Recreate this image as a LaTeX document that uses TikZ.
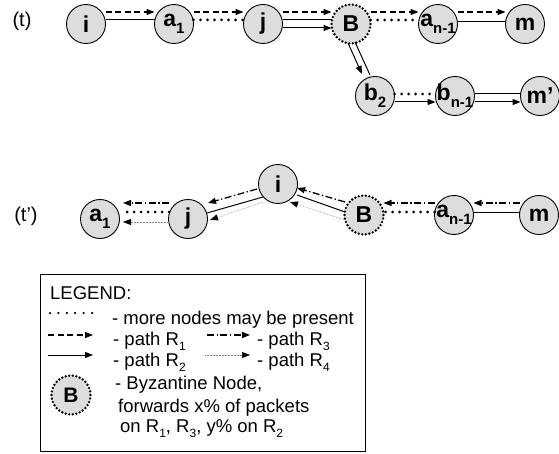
\documentclass[tikz,border=0pt]{standalone}
\usepackage{fontspec}
\setmainfont{Liberation Sans}
\usetikzlibrary{arrows.meta}
\definecolor{nodefill}{HTML}{DDDDDD}
\newcommand\ssub[1]{\raisebox{-0.3em}{\fontsize{15}{15}\selectfont #1}}
\newcommand\lsub[1]{\raisebox{-0.3em}{\fontsize{12}{12}\selectfont #1}}
\tikzset{
  nd/.style={circle, draw=black, line width=0.9pt, fill=nodefill, minimum size=39pt, inner sep=0pt},
  byz/.style={circle, draw=black, fill=nodefill, minimum size=39pt, inner sep=0pt, line width=2.6pt, dash pattern=on 0pt off 3.6pt, line cap=round},
  nlab/.style={font=\fontsize{23}{25}\selectfont\bfseries, inner sep=0pt},
  tl/.style={font=\fontsize{20}{22}\selectfont, inner sep=0pt},
  lt/.style={font=\fontsize{18.5}{20}\selectfont, inner sep=0pt, anchor=base west},
  r1/.style={line width=1.3pt, dash pattern=on 6pt off 3.5pt},
  r2/.style={line width=1pt},
  r3/.style={line width=1.3pt, dash pattern=on 7pt off 2.5pt on 1.3pt off 2.5pt},
  r4/.style={line width=0.5pt, gray, dash pattern=on 0.6pt off 0.9pt},
  more/.style={line width=3pt, dash pattern=on 0pt off 7pt, line cap=round},
  tip/.style={-{Triangle[length=8pt,width=6pt,color=black]}}
}
\begin{document}
\begin{tikzpicture}[x=1pt,y=-1pt]
\useasboundingbox (0,0) rectangle (559,454);
% ---------- (t) ----------
\node[tl] (t1) at (22,21) {(t)};
\node[nd,label={[nlab]center:i}] (i1) at (86,24) {};
\node[nd,label={[nlab]center:a\ssub{1}}] (a1) at (174,24) {};
\node[nd,label={[nlab]center:j}] (j1) at (263,24) {};
\node[byz,label={[nlab]center:B}] (B1) at (351,24) {};
\node[nd,label={[nlab]center:a\ssub{n-1}}] (an1) at (438,24) {};
\node[nd,label={[nlab]center:m}] (m1) at (525,24) {};
\node[nd,label={[nlab]center:b\ssub{2}}] (b2) at (375,96) {};
\node[nd,label={[nlab]center:b\ssub{n-1}}] (bn) at (455,96) {};
\node[nd,label={[nlab]center:m’}] (mp) at (540,96) {};

\draw[r1,tip] ([shift={(19.5,-12)}]i1.center) -- ([shift={(-19.5,-12)}]a1.center);
\draw[r2] ([shift={(19.5,-4)}]i1.center) -- ([shift={(-19.5,-4)}]a1.center);
\draw[r1,tip] ([shift={(19.5,-12)}]a1.center) -- ([shift={(-19.5,-12)}]j1.center);
\draw[more] ([shift={(19.5,-4)}]a1.center) -- ([shift={(-19.5,-4)}]j1.center);
\draw[r1,tip] ([shift={(19.5,-12)}]j1.center) -- ([shift={(-19.5,-12)}]B1.center);
\draw[r2] ([shift={(19.5,-4)}]j1.center) -- ([shift={(-19.5,-4)}]B1.center);
\draw[r2,tip] ([shift={(19.5,4)}]j1.center) -- ([shift={(-19.5,4)}]B1.center);
\draw[r1,tip] ([shift={(19.5,-12)}]B1.center) -- ([shift={(-19.5,-12)}]an1.center);
\draw[more] ([shift={(19.5,-4)}]B1.center) -- ([shift={(-19.5,-4)}]an1.center);
\draw[r1,tip] ([shift={(19.5,-12)}]an1.center) -- ([shift={(-19.5,-12)}]m1.center);
\draw[r2] ([shift={(19.5,-2)}]an1.center) -- ([shift={(-19.5,-2)}]m1.center);
\draw[r2,tip] ([shift={(-3,19)}]B1.center) -- ([shift={(-13,-22)}]b2.center);
\draw[r2] ([shift={(4,18)}]B1.center) -- ([shift={(-5,-21)}]b2.center);
\draw[more] ([shift={(19.5,-2)}]b2.center) -- ([shift={(-19.5,-2)}]bn.center);
\draw[r2,tip] ([shift={(19.5,6)}]b2.center) -- ([shift={(-19.5,6)}]bn.center);
\draw[r2] ([shift={(19.5,-2)}]bn.center) -- ([shift={(-19.5,-2)}]mp.center);
\draw[r2,tip] ([shift={(19.5,6)}]bn.center) -- ([shift={(-19.5,6)}]mp.center);

% ---------- (t') ----------
\node[tl] (t2) at (26,216) {(t’)};
\node[nd,label={[nlab]center:a\ssub{1}}] (a2) at (100,219) {};
\node[nd,label={[nlab]center:j}] (j2) at (188,219) {};
\node[nd,label={[nlab]center:i}] (i2) at (278,184) {};
\node[byz,label={[nlab]center:B}] (B2) at (364,215) {};
\node[nd,label={[nlab]center:a\ssub{n-1}}] (an2) at (454,215) {};
\node[nd,label={[nlab]center:m}] (m2) at (539,215) {};

\draw[r3,tip] ([shift={(-19.5,-12)}]m2.center) -- ([shift={(19.5,-12)}]an2.center);
\draw[r2] ([shift={(-19.5,-2)}]m2.center) -- ([shift={(19.5,-2)}]an2.center);
\draw[r3,tip] ([shift={(-19.5,-12)}]an2.center) -- ([shift={(19.5,-12)}]B2.center);
\draw[more] ([shift={(-19.5,-3)}]an2.center) -- ([shift={(19.5,-3)}]B2.center);
\draw[r3,tip] ([shift={(-19,-13)}]B2.center) -- ([shift={(19,4)}]i2.center);
\draw[r2] ([shift={(-19,-3)}]B2.center) -- ([shift={(19,11)}]i2.center);
\draw[r4,tip] ([shift={(-19,5)}]B2.center) -- ([shift={(12,18)}]i2.center);
\draw[r3,tip] ([shift={(-21,5)}]i2.center) -- ([shift={(20,-16)}]j2.center);
\draw[r2] ([shift={(-15,13)}]i2.center) -- ([shift={(19,-6)}]j2.center);
\draw[r4,tip] ([shift={(-15,18)}]i2.center) -- ([shift={(22,1)}]j2.center);
\draw[r3,tip] ([shift={(-19,-16)}]j2.center) -- ([shift={(23,-16)}]a2.center);
\draw[more] ([shift={(-19,-7)}]j2.center) -- ([shift={(20,-7)}]a2.center);
\draw[r4,tip] ([shift={(-19,3)}]j2.center) -- ([shift={(23,3)}]a2.center);

% ---------- legend ----------
\draw[line width=0.8pt] (40,274) rectangle (365,451);
\node[lt] (lg) at (50,299) {LEGEND:};
\coordinate (d1) at (50,313); \coordinate (d2) at (92,313);
\draw[line width=2.5pt, dash pattern=on 0pt off 8.4pt, line cap=round] (d1) -- (d2);
\node[lt] (lt1) at (112,324) {- more nodes may be present};
\coordinate (p1a) at (48,335); \coordinate (p1b) at (93,335);
\draw[r1,tip] (p1a) -- (p1b);
\node[lt] (lt2) at (113,345) {- path R\lsub{1}};
\coordinate (p3a) at (207,335); \coordinate (p3b) at (250,335);
\draw[r3,tip] (p3a) -- (p3b);
\node[lt] (lt3) at (257,345) {- path R\lsub{3}};
\coordinate (p2a) at (48,355); \coordinate (p2b) at (93,355);
\draw[r2,tip] (p2a) -- (p2b);
\node[lt] (lt4) at (113,366) {- path R\lsub{2}};
\coordinate (p4a) at (205,355); \coordinate (p4b) at (250,355);
\draw[r4,tip] (p4a) -- (p4b);
\node[lt] (lt5) at (257,366) {- path R\lsub{4}};
\node[byz,label={[nlab,font=\fontsize{21}{23}\selectfont\bfseries]center:B}] (lb) at (71,395) {};
\node[lt] (lt6) at (115,389) {- Byzantine Node,};
\node[lt] (lt7) at (118,412) {forwards x\% of packets};
\node[lt] (lt8) at (120,432) {on R\lsub{1}, R\lsub{3}, y\% on R\lsub{2}};
\end{tikzpicture}
\end{document}
